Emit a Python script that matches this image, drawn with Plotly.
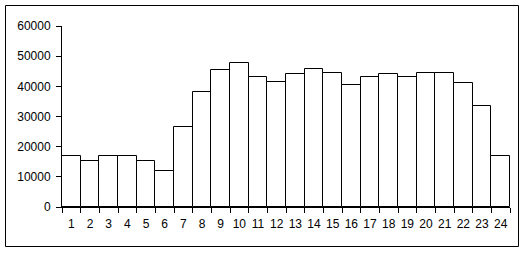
import plotly.graph_objects as go

hours = [str(i) for i in range(1, 25)]
values = [16800, 15400, 16800, 16800, 15100, 12100, 26500, 38000, 45300, 47700,
          43000, 41300, 44000, 45600, 44400, 40600, 43000, 44000, 43000, 44400,
          44400, 41000, 33400, 16800]
y_ticks = [0, 10000, 20000, 30000, 40000, 50000, 60000]
y_labels = [str(v) for v in y_ticks]

W, H = 526, 253
L, R, T, B = 62, 16, 26, 46
pw, ph = W - L - R, H - T - B

fig = go.Figure(go.Bar(
    x=hours, y=values,
    marker=dict(color="white", line=dict(color="black", width=1)),
))

def px_x(px):
    return (px - L) / pw

def px_y(py):
    return (H - B - py) / ph

fig.add_shape(type="rect", xref="paper", yref="paper",
              x0=px_x(5.5), x1=px_x(518.5), y0=px_y(246.5), y1=px_y(5.5),
              line=dict(color="black", width=1), fillcolor="rgba(0,0,0,0)", layer="below")

fig.update_layout(
    width=W, height=H,
    margin=dict(l=L, r=R, t=T, b=B, pad=0),
    paper_bgcolor="white", plot_bgcolor="white",
    bargap=0, showlegend=False,
    font=dict(family="Liberation Sans, Arial, sans-serif", size=12, color="black"),
    xaxis=dict(type="category", tickson="boundaries", ticks="outside", ticklen=5,
               tickcolor="black", showline=True, linecolor="black", linewidth=1,
               showgrid=False, zeroline=False, tickangle=0, fixedrange=True,
               ticklabelstandoff=6),
    yaxis=dict(range=[0, 60000], tickvals=y_ticks, ticktext=y_labels,
               ticks="outside", ticklen=5,
               tickcolor="black", showline=True, linecolor="black", linewidth=1,
               showgrid=False, zeroline=False, fixedrange=True,
               ticklabelstandoff=3),
)

fig.write_html("out.html")
